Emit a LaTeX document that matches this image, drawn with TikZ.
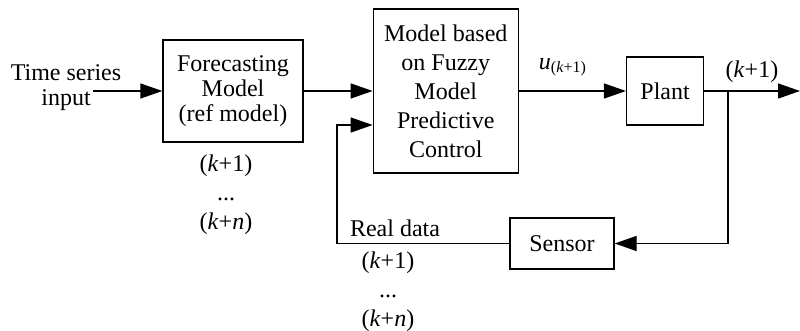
\documentclass[tikz,border=0pt]{standalone}
\usepackage{fontspec}
\setmainfont{Liberation Serif}
\usepackage{tikz}
\usetikzlibrary{arrows.meta, positioning}

\begin{document}
\begin{tikzpicture}[x=0.5pt, y=-0.5pt,
    font=\fontsize{12}{12.5}\selectfont,
    blk/.style={rectangle, draw, line width=0.65pt, align=center, inner sep=0pt},
    lbl/.style={align=center, inner sep=0pt},
    steps/.style={lbl, font=\fontsize{12}{14.5}\selectfont},
    arr/.style={-{Triangle[length=11pt, width=7.5pt]}, line width=0.65pt}]
    \useasboundingbox (0,0) rectangle (800,331);

    \node[blk, minimum width=70pt, minimum height=51pt] (fc) at (233,91) {Forecasting\\Model\\(ref model)};
    \node[blk, right=34.5pt of fc, minimum width=72.5pt, minimum height=82pt, font=\fontsize{12}{14.5}\selectfont] (fmpc) {Model based\\on Fuzzy\\Model\\Predictive\\Control};
    \node[blk, right=53.5pt of fmpc, minimum width=38.5pt, minimum height=34pt] (plant) {Plant};
    \node[blk, minimum width=52pt, minimum height=25.5pt] (sensor) at (562,243.5) {Sensor};

    % inputs and labels
    \node[lbl] (tsin) at (66,88) {Time series\\input};
    \node[steps] (fcsteps) at (226,195) {(\textit{k}+1)\\...\\(\textit{k}+\textit{n})};
    \node[lbl] (real) at (395,228) {Real data};
    \node[steps] (realsteps) at (388,292) {(\textit{k}+1)\\...\\(\textit{k}+\textit{n})};
    \node[lbl] (ulbl) at (563,67) {\textit{u}\textsubscript{(\textit{k}+1)}};
    \node[lbl] (ylbl) at (752,72) {(\textit{k}+1)};

    \coordinate (inp) at (93,91);
    \coordinate (tap) at (728,91);
    \coordinate (out) at (800,91);
    \coordinate (fbk) at (337,125);

    % forward path
    \draw[arr] (inp) -- (fc.west);
    \draw[arr] (fc.east) -- (fmpc.west |- fc.east);
    \draw[arr] (fmpc.east |- plant.west) -- (plant.west);
    \draw[arr] (plant.east) -- (out);

    % measurement feedback
    \draw[arr] (tap) |- (sensor.east);
    \draw[arr] (sensor.west) -| (fbk) -- (fbk -| fmpc.west);
\end{tikzpicture}
\end{document}
